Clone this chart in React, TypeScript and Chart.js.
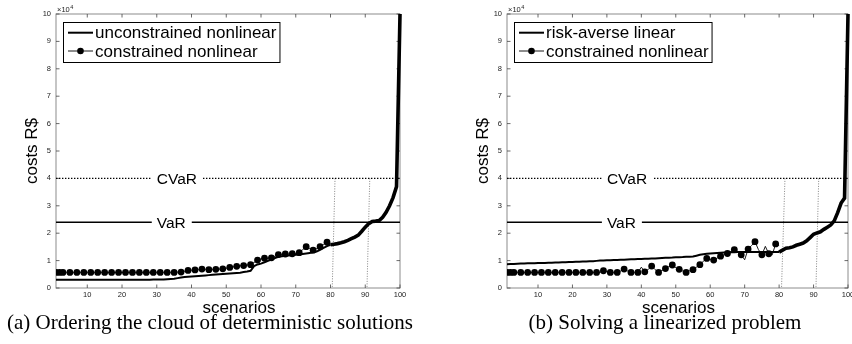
import React, { useEffect, useRef } from "react";
import { Chart, registerables } from "chart.js";

Chart.register(...registerables);

const SANS = '"Liberation Sans", Arial, Helvetica, sans-serif';
const SERIF = '"Liberation Serif", "Times New Roman", serif';

// ---- axes ----
const xTickValues = [10, 20, 30, 40, 50, 60, 70, 80, 90, 100];
const yTickValues = [0, 1, 2, 3, 4, 5, 6, 7, 8, 9, 10];
const yExponentBase = "\u00d710";
const yExponent = "4";
const xAxisTitle = "scenarios";
const yAxisTitle = "costs R$";

// ---- risk measures (units of 10^4 R$) ----
const varLevel = 2.4;
const cvarLevel = 4;
const varLabel = "VaR";
const cvarLabel = "CVaR";
const riskLabelScenario = 30;
const guideTopA = [81.3, 91.3];
const guideBottomA = [80.5, 90.5];
const guideTopB = [81.7, 91.5];
const guideBottomB = [80.7, 90.7];

// ---- legends / captions ----
const legendA = ["unconstrained nonlinear", "constrained nonlinear"];
const legendB = ["risk-averse linear", "constrained nonlinear"];
const captionA = "(a) Ordering the cloud of deterministic solutions";
const captionB = "(b) Solving a linearized problem";

// ---- panel (a): values in 10^4 R$, scenario 1..80 ----
const unconstrainedA = [
  0.30, 0.30, 0.30, 0.30, 0.30, 0.30, 0.30, 0.30, 0.30, 0.30,
  0.30, 0.30, 0.30, 0.30, 0.30, 0.30, 0.30, 0.30, 0.30, 0.30,
  0.30, 0.30, 0.30, 0.30, 0.30, 0.30, 0.30, 0.30, 0.31, 0.31,
  0.31, 0.31, 0.32, 0.33, 0.34, 0.36, 0.38, 0.40, 0.41, 0.42,
  0.43, 0.44, 0.45, 0.46, 0.47, 0.48, 0.49, 0.50, 0.51, 0.52,
  0.53, 0.54, 0.55, 0.56, 0.58, 0.60, 0.63, 0.80, 0.86, 0.89,
  0.94, 0.99, 1.04, 1.09, 1.14, 1.16, 1.18, 1.19, 1.20, 1.21,
  1.22, 1.24, 1.26, 1.28, 1.30, 1.33, 1.39, 1.46, 1.53, 1.58,
];
// scenarios 80..100
const tailA = [
  1.58, 1.60, 1.62, 1.65, 1.69, 1.74, 1.80, 1.86, 1.93, 2.07,
  2.22, 2.35, 2.43, 2.44, 2.46, 2.58, 2.76, 3.00, 3.30, 3.70, 10,
];
const constrainedA = [
  0.57, 0.57, 0.57, 0.57, 0.57, 0.57, 0.57, 0.57, 0.57, 0.57,
  0.57, 0.57, 0.57, 0.57, 0.57, 0.57, 0.57, 0.57, 0.57, 0.57,
  0.57, 0.57, 0.57, 0.57, 0.57, 0.57, 0.57, 0.57, 0.57, 0.57,
  0.57, 0.57, 0.57, 0.57, 0.57, 0.58, 0.58, 0.61, 0.64, 0.65,
  0.66, 0.67, 0.69, 0.68, 0.67, 0.68, 0.68, 0.69, 0.70, 0.72,
  0.75, 0.77, 0.79, 0.81, 0.82, 0.84, 0.85, 0.93, 1.02, 1.06,
  1.09, 1.09, 1.10, 1.16, 1.22, 1.23, 1.24, 1.24, 1.25, 1.26,
  1.29, 1.40, 1.51, 1.44, 1.38, 1.44, 1.51, 1.59, 1.67, 1.60,
];

// ---- panel (b) ----
const riskAverseB = [
  0.87, 0.875, 0.88, 0.885, 0.89, 0.895, 0.90, 0.90, 0.905, 0.91,
  0.91, 0.915, 0.92, 0.925, 0.93, 0.935, 0.94, 0.94, 0.945, 0.95,
  0.955, 0.96, 0.965, 0.97, 0.975, 0.98, 0.99, 1.00, 1.005, 1.01,
  1.015, 1.02, 1.025, 1.03, 1.035, 1.04, 1.045, 1.05, 1.055, 1.06,
  1.065, 1.07, 1.075, 1.08, 1.09, 1.095, 1.10, 1.105, 1.11, 1.12,
  1.125, 1.13, 1.14, 1.145, 1.15, 1.18, 1.21, 1.23, 1.25, 1.26,
  1.27, 1.28, 1.29, 1.30, 1.30, 1.305, 1.305, 1.31, 1.31, 1.31,
  1.31, 1.31, 1.31, 1.31, 1.31, 1.31, 1.31, 1.31, 1.31, 1.31,
];
const tailB = [
  1.31, 1.38, 1.45, 1.47, 1.50, 1.56, 1.60, 1.64, 1.72, 1.84,
  1.96, 2.01, 2.05, 2.14, 2.22, 2.30, 2.45, 2.75, 3.10, 3.28, 10,
];
const constrainedB = [
  0.57, 0.57, 0.57, 0.57, 0.57, 0.57, 0.57, 0.57, 0.57, 0.57,
  0.57, 0.57, 0.57, 0.57, 0.57, 0.57, 0.57, 0.57, 0.57, 0.57,
  0.57, 0.57, 0.57, 0.57, 0.57, 0.57, 0.57, 0.57, 0.63, 0.60,
  0.57, 0.57, 0.57, 0.62, 0.69, 0.62, 0.57, 0.57, 0.57, 0.76,
  0.59, 0.68, 0.80, 0.67, 0.57, 0.64, 0.71, 0.78, 0.84, 0.74,
  0.68, 0.62, 0.57, 0.63, 0.67, 0.76, 0.85, 0.98, 1.08, 1.04,
  1.02, 1.09, 1.16, 1.21, 1.26, 1.33, 1.40, 1.30, 1.21, 1.03,
  1.42, 1.55, 1.69, 1.40, 1.21, 1.52, 1.25, 1.21, 1.61, 1.55,
];

const TAIL_START = 80;

type PanelProps = {
  left: number;
  width: number;
  padLeft: number;
  padRight: number;
  xTitleShift: number;
  main: number[];
  tail: number[];
  constrained: number[];
  legend: string[];
  guideTop: number[];
  guideBottom: number[];
};

const toPoints = (vals: number[], start: number) =>
  vals.map((y, i) => ({ x: start + i, y }));

function Panel(p: PanelProps) {
  const ref = useRef<HTMLCanvasElement>(null);

  useEffect(() => {
    const canvas = ref.current;
    if (!canvas) return;

    const decor = {
      id: "matlabDecor",
      beforeDatasetsDraw(chart: any) {
        const { ctx, chartArea } = chart;
        const { left, top, right, bottom } = chartArea;
        const xs = chart.scales.x;
        const ys = chart.scales.y;
        ctx.save();
        ctx.strokeStyle = "#8c8c8c";
        ctx.lineWidth = 1;
        ctx.strokeRect(left, top, right - left, bottom - top);
        ctx.strokeStyle = "#444";
        ctx.lineWidth = 0.8;
        const tl = 3.5;
        xTickValues.forEach((v) => {
          const px = xs.getPixelForValue(v);
          ctx.beginPath();
          ctx.moveTo(px, bottom);
          ctx.lineTo(px, bottom - tl);
          ctx.moveTo(px, top);
          ctx.lineTo(px, top + tl);
          ctx.stroke();
        });
        yTickValues.forEach((v) => {
          const py = ys.getPixelForValue(v);
          ctx.beginPath();
          ctx.moveTo(left, py);
          ctx.lineTo(left + tl, py);
          ctx.moveTo(right, py);
          ctx.lineTo(right - tl, py);
          ctx.stroke();
        });
        // exponent label
        ctx.fillStyle = "#222";
        ctx.font = `7.5px ${SANS}`;
        ctx.textBaseline = "alphabetic";
        ctx.textAlign = "left";
        ctx.fillText(yExponentBase, left + 1, top - 2);
        const w = ctx.measureText(yExponentBase).width;
        ctx.font = `5.5px ${SANS}`;
        ctx.fillText(yExponent, left + 1 + w + 0.5, top - 5.5);
        // x axis title
        ctx.fillStyle = "#000";
        ctx.font = `17px ${SANS}`;
        ctx.textAlign = "center";
        ctx.fillText(xAxisTitle, (left + right) / 2 + p.xTitleShift, bottom + 25);
        ctx.restore();
      },
      afterDatasetsDraw(chart: any) {
        const { ctx, chartArea } = chart;
        const xs = chart.scales.x;
        const ys = chart.scales.y;
        ctx.save();
        // risk labels
        ctx.font = `15.5px ${SANS}`;
        ctx.textAlign = "left";
        ctx.textBaseline = "alphabetic";
        const items: [string, number][] = [
          [cvarLabel, cvarLevel],
          [varLabel, varLevel],
        ];
        items.forEach(([label, level]) => {
          const x0 = xs.getPixelForValue(riskLabelScenario);
          const y0 = ys.getPixelForValue(level);
          const w = ctx.measureText(label).width;
          ctx.fillStyle = "#fff";
          ctx.fillRect(x0 - 5, y0 - 8, w + 11, 16);
          ctx.fillStyle = "#000";
          ctx.fillText(label, x0, y0 + 5.5);
        });
        // legend
        ctx.font = `17px ${SANS}`;
        const tw = Math.max(...p.legend.map((t) => ctx.measureText(t).width));
        const bx = chartArea.left + 7;
        const by = chartArea.top + 8;
        const bw = 32 + tw + 3;
        const bh = 40;
        ctx.fillStyle = "#fff";
        ctx.fillRect(bx, by, bw, bh);
        ctx.strokeStyle = "#000";
        ctx.lineWidth = 1;
        ctx.strokeRect(bx + 0.5, by + 0.5, bw, bh);
        const rows = [by + 10.7, by + 29];
        rows.forEach((ry, i) => {
          ctx.strokeStyle = "#000";
          ctx.lineWidth = i === 0 ? 2 : 0.9;
          ctx.beginPath();
          ctx.moveTo(bx + 5, ry);
          ctx.lineTo(bx + 30, ry);
          ctx.stroke();
          if (i === 1) {
            ctx.fillStyle = "#000";
            ctx.beginPath();
            ctx.arc(bx + 17.5, ry, 3.3, 0, Math.PI * 2);
            ctx.fill();
          }
          ctx.fillStyle = "#000";
          ctx.fillText(p.legend[i], bx + 32, ry + 5.6);
        });
        ctx.restore();
      },
    };

    const black = "#000";
    const chart = new Chart(canvas, {
      type: "line",
      data: {
        datasets: [
          {
            label: p.legend[1],
            data: toPoints(p.constrained, 1),
            borderColor: black,
            borderWidth: 0.9,
            backgroundColor: black,
            pointBackgroundColor: black,
            pointBorderWidth: 0,
            pointRadius: (c: any) =>
              c.dataIndex % 2 === 0 || c.dataIndex === 1 ? 3.4 : 0,
            order: 0,
          },
          {
            label: p.legend[0],
            data: toPoints(p.main, 1),
            borderColor: black,
            borderWidth: 2,
            pointRadius: 0,
            order: 1,
          },
          {
            label: "tail",
            data: toPoints(p.tail, TAIL_START),
            borderColor: black,
            borderWidth: 3.6,
            pointRadius: 0,
            clip: false,
            order: 2,
          },
          {
            label: varLabel,
            data: [
              { x: 1, y: varLevel },
              { x: 100, y: varLevel },
            ],
            borderColor: black,
            borderWidth: 1.4,
            pointRadius: 0,
            order: 3,
          },
          {
            label: cvarLabel,
            data: [
              { x: 1, y: cvarLevel },
              { x: 100, y: cvarLevel },
            ],
            borderColor: black,
            borderWidth: 1.4,
            borderDash: [1.4, 1.6],
            pointRadius: 0,
            order: 4,
          },
          ...p.guideTop.map((gx, i) => ({
            label: "guide" + i,
            data: [
              { x: gx, y: cvarLevel },
              { x: p.guideBottom[i], y: 0 },
            ],
            borderColor: "#666",
            borderWidth: 0.8,
            borderDash: [1, 1.5],
            pointRadius: 0,
            order: 5 + i,
          })),
        ],
      },
      options: {
        animation: false,
        responsive: false,
        devicePixelRatio: 1,
        events: [],
        layout: {
          padding: { left: p.padLeft, right: p.padRight, top: 14, bottom: 26 },
        },
        elements: { line: { tension: 0 } },
        plugins: {
          legend: { display: false },
          tooltip: { enabled: false },
          title: { display: false },
        },
        scales: {
          x: {
            type: "linear",
            min: 1,
            max: 100,
            afterBuildTicks: (s: any) => {
              s.ticks = xTickValues.map((v) => ({ value: v }));
            },
            afterFit: (s: any) => {
              s.height = 30;
              s.paddingLeft = 0;
              s.paddingRight = 0;
            },
            grid: { display: false, drawTicks: false, tickLength: 0 },
            border: { display: false },
            ticks: {
              autoSkip: false,
              maxRotation: 0,
              padding: 2,
              color: "#222",
              font: { family: SANS, size: 7.5 },
            },
            title: { display: false },
          },
          y: {
            type: "linear",
            min: 0,
            max: 10,
            afterBuildTicks: (s: any) => {
              s.ticks = yTickValues.map((v) => ({ value: v }));
            },
            afterFit: (s: any) => {
              s.width = 56;
              s.paddingTop = 0;
              s.paddingBottom = 0;
            },
            grid: { display: false, drawTicks: false, tickLength: 0 },
            border: { display: false },
            ticks: {
              padding: 5,
              color: "#222",
              font: { family: SANS, size: 7.5 },
            },
            title: {
              display: true,
              text: yAxisTitle,
              color: "#000",
              font: { family: SANS, size: 17 },
              padding: { top: 22, bottom: 0 },
            },
          },
        },
      },
      plugins: [decor],
    } as any);

    return () => chart.destroy();
  }, []);

  return (
    <canvas
      ref={ref}
      width={p.width}
      height={344}
      style={{
        position: "absolute",
        left: p.left,
        top: 0,
        width: p.width,
        height: 344,
      }}
    />
  );
}

export default function App() {
  return (
    <div
      style={{
        position: "fixed",
        left: 0,
        top: 0,
        width: 852,
        height: 344,
        background: "#fff",
        overflow: "hidden",
      }}
    >
      <Panel
        left={0}
        width={430}
        padLeft={0}
        padRight={30}
        xTitleShift={11}
        main={unconstrainedA}
        tail={tailA}
        constrained={constrainedA}
        legend={legendA}
        guideTop={guideTopA}
        guideBottom={guideBottomA}
      />
      <Panel
        left={430}
        width={422}
        padLeft={21}
        padRight={2}
        xTitleShift={1}
        main={riskAverseB}
        tail={tailB}
        constrained={constrainedB}
        legend={legendB}
        guideTop={guideTopB}
        guideBottom={guideBottomB}
      />
      <div
        style={{
          position: "absolute",
          left: 0,
          width: 420,
          top: 310,
          textAlign: "center",
          font: `21px ${SERIF}`,
          lineHeight: "24px",
          color: "#000",
          whiteSpace: "nowrap",
        }}
      >
        {captionA}
      </div>
      <div
        style={{
          position: "absolute",
          left: 505,
          width: 320,
          top: 310,
          textAlign: "center",
          font: `21px ${SERIF}`,
          lineHeight: "24px",
          color: "#000",
          whiteSpace: "nowrap",
        }}
      >
        {captionB}
      </div>
    </div>
  );
}
